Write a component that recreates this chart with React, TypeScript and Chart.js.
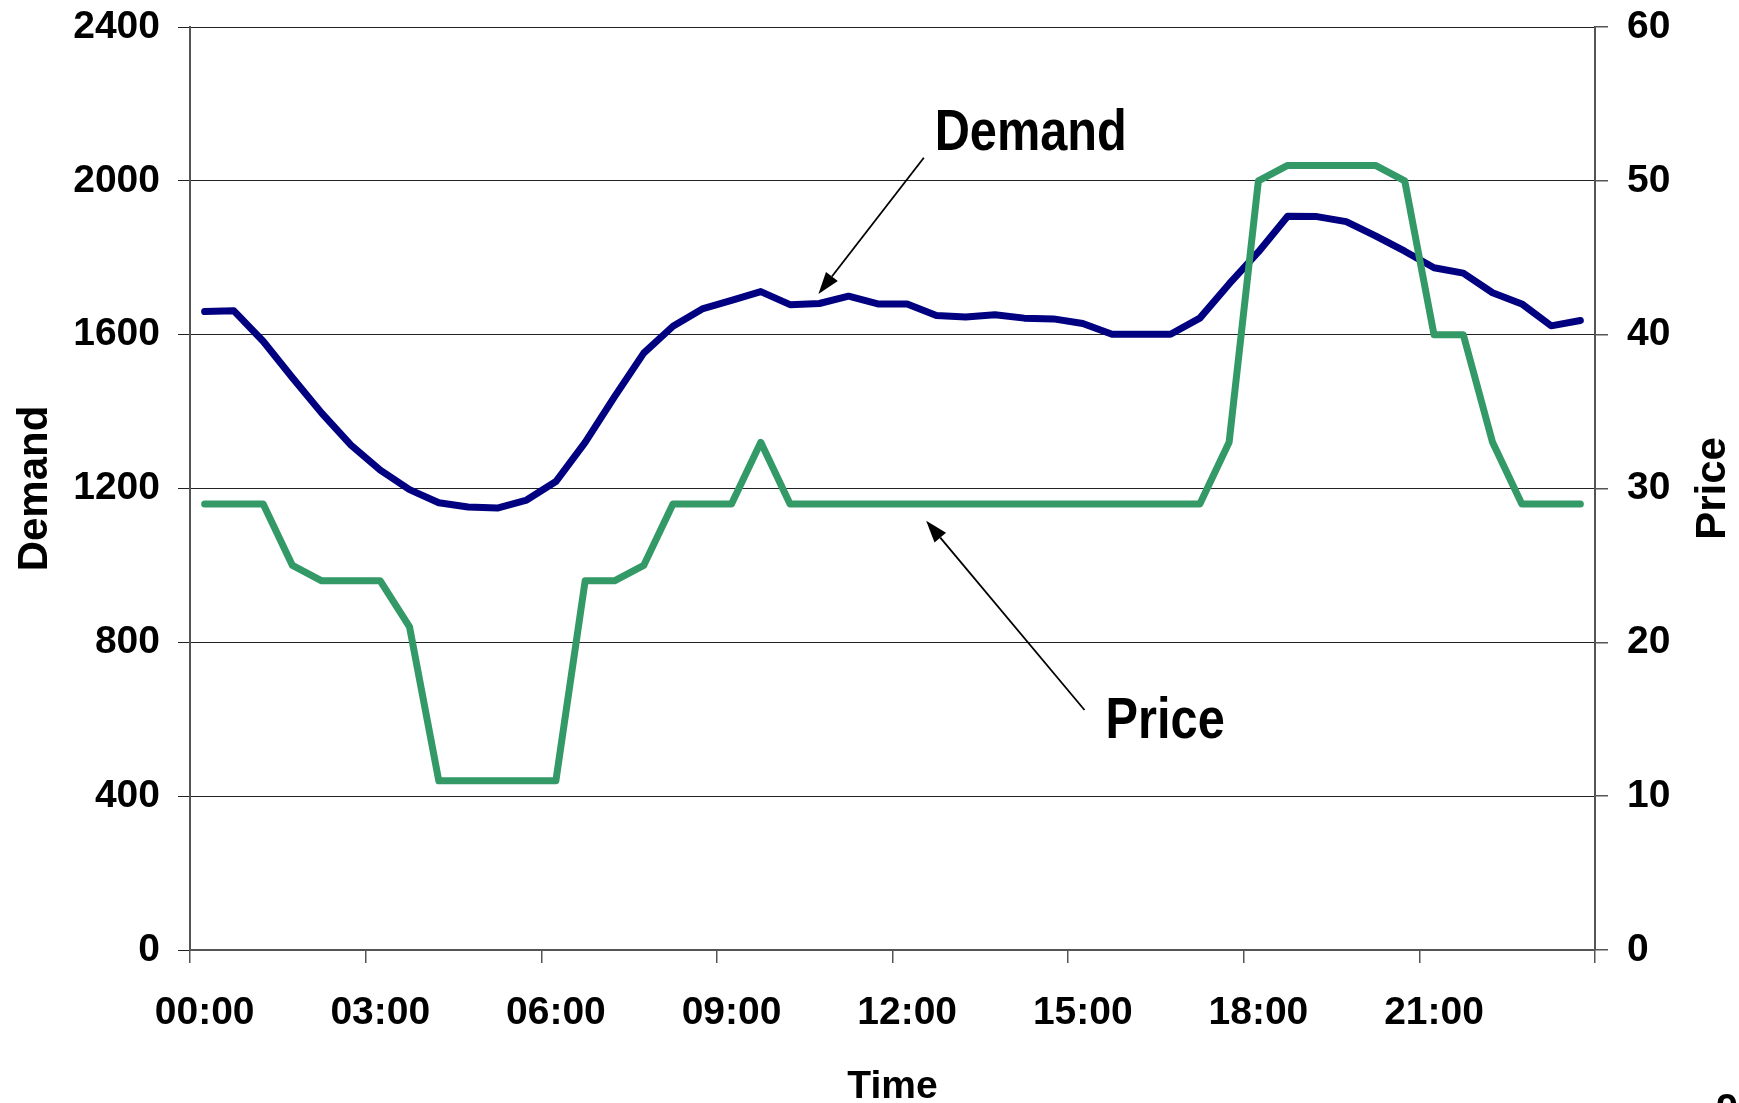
import React, { useEffect, useRef } from "react";
import { Chart, registerables } from "chart.js";

Chart.register(...registerables);

// ---------- data ----------
const timeLabels = [
  "00:00", "00:30", "01:00", "01:30", "02:00", "02:30", "03:00", "03:30",
  "04:00", "04:30", "05:00", "05:30", "06:00", "06:30", "07:00", "07:30",
  "08:00", "08:30", "09:00", "09:30", "10:00", "10:30", "11:00", "11:30",
  "12:00", "12:30", "13:00", "13:30", "14:00", "14:30", "15:00", "15:30",
  "16:00", "16:30", "17:00", "17:30", "18:00", "18:30", "19:00", "19:30",
  "20:00", "20:30", "21:00", "21:30", "22:00", "22:30", "23:00", "23:30",
];

const demandValues = [
  1660, 1662, 1583, 1488, 1396, 1313, 1248, 1197,
  1163, 1152, 1149, 1170, 1218, 1320, 1438, 1552,
  1622, 1667, 1689, 1712, 1678, 1681, 1700, 1680,
  1680, 1650, 1646, 1652, 1643, 1641, 1629, 1601,
  1601, 1601, 1643, 1732, 1815, 1908, 1907, 1894,
  1857, 1817, 1774, 1760, 1709, 1680, 1623, 1637,
];

const priceValues = [
  29, 29, 29, 25, 24, 24, 24, 21,
  11, 11, 11, 11, 11, 24, 24, 25,
  29, 29, 29, 33, 29, 29, 29, 29,
  29, 29, 29, 29, 29, 29, 29, 29,
  29, 29, 29, 33, 50, 51, 51, 51,
  51, 50, 40, 40, 33, 29, 29, 29,
];

const demandTicks = [0, 400, 800, 1200, 1600, 2000, 2400];
const priceTicks = [0, 10, 20, 30, 40, 50, 60];

const seriesNames = ["Demand", "Price"];
const axisTitles = { x: "Time", y: "Demand", y1: "Price" };
const pageNumber = "9";

// annotation callouts (positions in data units: category index, axis value)
const demandCallout = { text: "Demand", labelAt: [24.94, 2081], tail: [24.57, 2060], tip: [20.97, 1706], axis: "y" };
const priceCallout = { text: "Price", labelAt: [30.78, 13.8], tail: [30.06, 15.6], tip: [24.65, 27.9], axis: "y1" };

// ---------- styles ----------
const FONT = "'Liberation Sans', Arial, Helvetica, sans-serif";
const TICK_SIZE = 39;
const YTITLE_SIZE = 42;
const CALLOUT_SIZE = 58;
const NAVY = "#000080";
const GREEN = "#339966";
const GRID = "#222222";
const AXIS = "#555555";

const overlayPlugin = {
  id: "overlay",
  afterDraw(chart: any) {
    const { ctx, scales, chartArea } = chart;
    const xs = scales.x;
    ctx.save();
    ctx.fillStyle = "#000";

    // right axis title (reads bottom to top)
    ctx.font = `bold ${YTITLE_SIZE}px ${FONT}`;
    ctx.textAlign = "center";
    ctx.textBaseline = "middle";
    ctx.save();
    ctx.translate(chart.width - 26, (chartArea.top + chartArea.bottom) / 2);
    ctx.rotate(-Math.PI / 2);
    ctx.fillText(axisTitles.y1, 0, 0);
    ctx.restore();

    // callouts
    for (const c of [demandCallout, priceCallout]) {
      const ys = scales[c.axis];
      const lx = xs.getPixelForValue(c.labelAt[0]);
      const ly = ys.getPixelForValue(c.labelAt[1]);
      ctx.save();
      ctx.translate(lx, ly);
      ctx.scale(0.84, 1);
      ctx.font = `bold ${CALLOUT_SIZE}px ${FONT}`;
      ctx.textAlign = "left";
      ctx.textBaseline = "alphabetic";
      ctx.fillText(c.text, 0, 0);
      ctx.restore();

      const x0 = xs.getPixelForValue(c.tail[0]);
      const y0 = ys.getPixelForValue(c.tail[1]);
      const x1 = xs.getPixelForValue(c.tip[0]);
      const y1 = ys.getPixelForValue(c.tip[1]);
      const ang = Math.atan2(y1 - y0, x1 - x0);
      const headLen = 22;
      const headHalf = 7.5;
      const bx = x1 - headLen * Math.cos(ang);
      const by = y1 - headLen * Math.sin(ang);
      ctx.strokeStyle = "#000";
      ctx.lineWidth = 1.8;
      ctx.beginPath();
      ctx.moveTo(x0, y0);
      ctx.lineTo(bx, by);
      ctx.stroke();
      ctx.beginPath();
      ctx.moveTo(x1, y1);
      ctx.lineTo(bx + headHalf * Math.sin(ang), by - headHalf * Math.cos(ang));
      ctx.lineTo(bx - headHalf * Math.sin(ang), by + headHalf * Math.cos(ang));
      ctx.closePath();
      ctx.fill();
    }

    // slide page number (cut at the bottom edge)
    ctx.font = `bold ${TICK_SIZE}px ${FONT}`;
    ctx.textAlign = "center";
    ctx.textBaseline = "alphabetic";
    ctx.fillText(pageNumber, chart.width - 12, chart.height + 18);
    ctx.restore();
  },
};

const noPad = (s: any) => { s.paddingTop = 0; s.paddingBottom = 0; };

export default function App() {
  const canvasRef = useRef<HTMLCanvasElement | null>(null);

  useEffect(() => {
    document.body.style.margin = "0";
    const canvas = canvasRef.current;
    if (!canvas) return;
    Chart.defaults.font.family = FONT;
    const chart = new Chart(canvas, {
      type: "line",
      data: {
        labels: timeLabels,
        datasets: [
          {
            label: seriesNames[0],
            data: demandValues,
            yAxisID: "y",
            borderColor: NAVY,
            backgroundColor: NAVY,
            borderWidth: 7,
            pointRadius: 0,
            tension: 0,
            borderCapStyle: "round",
            borderJoinStyle: "round",
            order: 1,
          },
          {
            label: seriesNames[1],
            data: priceValues,
            yAxisID: "y1",
            borderColor: GREEN,
            backgroundColor: GREEN,
            borderWidth: 7,
            pointRadius: 0,
            tension: 0,
            borderCapStyle: "round",
            borderJoinStyle: "round",
            order: 0,
          },
        ],
      },
      options: {
        responsive: false,
        animation: false,
        layout: { padding: { top: 27, left: 0, right: 0, bottom: 0 } },
        plugins: { legend: { display: false }, tooltip: { enabled: false } },
        scales: {
          x: {
            type: "category",
            position: "bottom",
            offset: true,
            afterFit: (s: any) => { s.height = 153; },
            grid: {
              offset: true,
              drawOnChartArea: false,
              tickLength: 13,
              lineWidth: 1.5,
              color: (c: any) => (c.index === undefined || c.index % 6 === 0 ? AXIS : "rgba(0,0,0,0)"),
            },
            border: { display: true, color: AXIS, width: 2 },
            ticks: {
              autoSkip: false,
              maxRotation: 0,
              minRotation: 0,
              padding: 27,
              color: "#000",
              font: { size: TICK_SIZE, weight: "bold" },
              callback: (_v: any, i: number) => (i % 6 === 0 ? timeLabels[i] : ""),
            },
            title: {
              display: true,
              text: axisTitles.x,
              color: "#000",
              font: { size: TICK_SIZE, weight: "bold", lineHeight: 0.8 },
              padding: { top: 0, bottom: 0 },
            },
          },
          y: {
            position: "left",
            min: demandTicks[0],
            max: demandTicks[demandTicks.length - 1],
            afterFit: (s: any) => { s.width = 190; noPad(s); },
            afterBuildTicks: (s: any) => { s.ticks = demandTicks.map((v) => ({ value: v })); },
            grid: { color: GRID, lineWidth: 1, tickLength: 12 },
            border: { display: true, color: AXIS, width: 2 },
            ticks: {
              padding: 18,
              color: "#000",
              font: { size: TICK_SIZE, weight: "bold" },
              callback: (v: any) => String(v),
            },
            title: {
              display: true,
              text: axisTitles.y,
              color: "#000",
              font: { size: YTITLE_SIZE, weight: "bold" },
              padding: { top: 10, bottom: 0 },
            },
          },
          y1: {
            position: "right",
            min: priceTicks[0],
            max: priceTicks[priceTicks.length - 1],
            afterFit: (s: any) => { s.width = 144; noPad(s); },
            afterBuildTicks: (s: any) => { s.ticks = priceTicks.map((v) => ({ value: v })); },
            grid: { drawOnChartArea: false, color: AXIS, lineWidth: 1.5, tickLength: 13 },
            border: { display: true, color: AXIS, width: 2 },
            ticks: {
              padding: 19,
              color: "#000",
              font: { size: TICK_SIZE, weight: "bold" },
              callback: (v: any) => String(v),
            },
          },
        },
      },
      plugins: [overlayPlugin],
    } as any);
    return () => chart.destroy();
  }, []);

  return (
    <div style={{ position: "fixed", left: 0, top: 0, width: 1739, height: 1103, overflow: "hidden", background: "#fff" }}>
      <canvas ref={canvasRef} width={1739} height={1103} style={{ display: "block" }} />
    </div>
  );
}
